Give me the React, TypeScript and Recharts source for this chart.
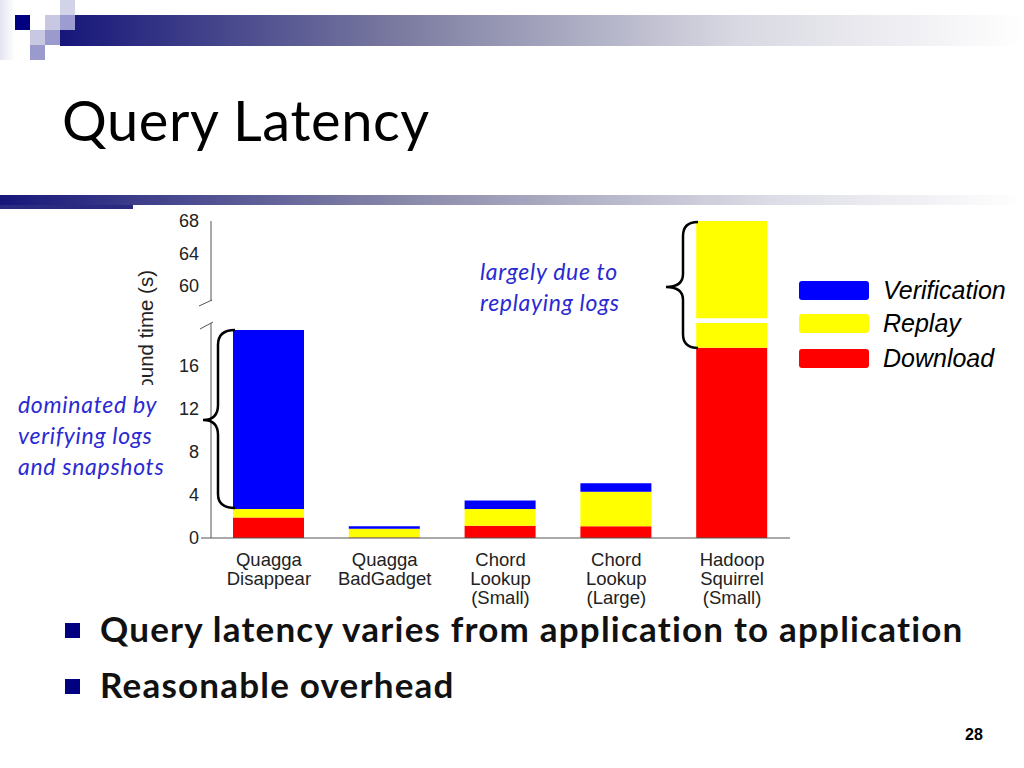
import React from 'react';
import { BarChart, Bar, XAxis, YAxis } from 'recharts';

// round time breakdown per application (seconds)
const apps = [
  'Quagga Disappear',
  'Quagga BadGadget',
  'Chord Lookup (Small)',
  'Chord Lookup (Large)',
  'Hadoop Squirrel (Small)',
];
const appLabelLines = [
  ['Quagga', 'Disappear'],
  ['Quagga', 'BadGadget'],
  ['Chord', 'Lookup', '(Small)'],
  ['Chord', 'Lookup', '(Large)'],
  ['Hadoop', 'Squirrel', '(Small)'],
];
const download = [1.9, 0.05, 1.15, 1.1, 17.7];
const replay = [0.8, 0.8, 1.55, 3.2, 50.4];
const verification = [16.65, 0.25, 0.8, 0.8, 0];

const upperTicks = [60, 64, 68];
const lowerTicks = [0, 4, 8, 12, 16];

const series = [
  { key: 'download', name: 'Download', color: '#ff0000' },
  { key: 'replay', name: 'Replay', color: '#ffff00' },
  { key: 'verification', name: 'Verification', color: '#0000ff' },
];
const legendOrder = ['Verification', 'Replay', 'Download'];

const bullets = [
  'Query latency varies from application to application',
  'Reasonable overhead',
];

const data = apps.map((app, i) => ({
  app,
  download: download[i],
  replay: replay[i],
  verification: verification[i],
}));

const AXIS_FONT = 'Liberation Sans, Arial, sans-serif';
const SLIDE_FONT = 'Lato, "Open Sans", sans-serif';
const NOTE_BLUE = '#2a2ad2';
const TICK_STYLE = { fontFamily: AXIS_FONT, fontSize: 18, fill: '#222' };

const CHART_W = 800;
const MARGIN_L = 151;
const MARGIN_R = 10;

function AppTick(props: any) {
  const { x, y, payload } = props;
  const lines = appLabelLines[payload.index] || [payload.value];
  return (
    <text
      x={x}
      y={y}
      textAnchor="middle"
      fontFamily={AXIS_FONT}
      fontSize={18.5}
      fill="#222"
    >
      {lines.map((l, i) => (
        <tspan key={i} x={x} dy={i === 0 ? 22 : 19}>
          {l}
        </tspan>
      ))}
    </text>
  );
}

function Bars() {
  return series.map((s) => (
    <Bar
      key={s.key}
      dataKey={s.key}
      name={s.name}
      stackId="a"
      fill={s.color}
      barSize={71}
      isAnimationActive={false}
    />
  ));
}

const noteStyle: React.CSSProperties = {
  position: 'absolute',
  fontFamily: SLIDE_FONT,
  fontStyle: 'italic',
  fontSize: 23,
  letterSpacing: 0.7,
  lineHeight: '31px',
  color: NOTE_BLUE,
  whiteSpace: 'nowrap',
};

export default function App() {
  return (
    <div
      style={{
        position: 'absolute',
        left: 0,
        top: 0,
        width: 1024,
        height: 768,
        background: '#fff',
        overflow: 'hidden',
      }}
    >
      {/* slide decoration */}
      <svg
        width={1024}
        height={768}
        style={{ position: 'absolute', left: 0, top: 0 }}
      >
        <defs>
          <linearGradient id="hdr" x1="0" x2="1" y1="0" y2="0">
            <stop offset="0" stopColor="#16167a" />
            <stop offset="0.35" stopColor="#7a7aa0" />
            <stop offset="0.7" stopColor="#d8d8e2" />
            <stop offset="1" stopColor="#ffffff" />
          </linearGradient>
          <linearGradient id="rule" x1="0" x2="1" y1="0" y2="0">
            <stop offset="0" stopColor="#16167a" />
            <stop offset="0.4" stopColor="#8a8aaa" />
            <stop offset="0.75" stopColor="#dcdce6" />
            <stop offset="1" stopColor="#ffffff" />
          </linearGradient>
          <linearGradient id="pale" x1="0" x2="1" y1="0" y2="0">
            <stop offset="0" stopColor="#e4e4f0" />
            <stop offset="1" stopColor="#ffffff" />
          </linearGradient>
        </defs>
        <rect x={0} y={0} width={15} height={60} fill="url(#pale)" />
        <rect x={60} y={15} width={964} height={31} fill="url(#hdr)" />
        <rect x={60} y={0} width={15} height={15} fill="#d2d2e8" />
        <rect x={15} y={15} width={15} height={15} fill="#000080" />
        <rect x={45} y={15} width={15} height={15} fill="#c8c8e2" />
        <rect x={60} y={15} width={15} height={15} fill="#9c9cd0" />
        <rect x={30} y={30} width={15} height={15} fill="#c8c8e2" />
        <rect x={45} y={30} width={15} height={15} fill="#9a9acc" />
        <rect x={30} y={45} width={15} height={15} fill="#9a9acc" />
        <rect x={0} y={195} width={1024} height={10} fill="url(#rule)" />
        <rect x={0} y={205} width={133} height={4} fill="#2a2a80" />
        <rect x={133} y={205} width={890} height={10} fill="#fff" />
      </svg>

      <div
        style={{
          position: 'absolute',
          left: 62,
          top: 84,
          fontFamily: SLIDE_FONT,
          fontSize: 56,
          letterSpacing: 0.6,
          color: '#000',
          lineHeight: '72px',
          whiteSpace: 'nowrap',
        }}
      >
        Query Latency
      </div>

      {/* upper panel of the broken axis */}
      <div style={{ position: 'absolute', left: 0, top: 200 }}>
        <BarChart
          width={CHART_W}
          height={119}
          data={data}
          margin={{ top: 21, right: MARGIN_R, bottom: 0.5, left: MARGIN_L }}
          barCategoryGap={0}
        >
          <XAxis dataKey="app" hide />
          <YAxis
            domain={[56, 68]}
            allowDataOverflow
            ticks={upperTicks}
            interval={0}
            tick={TICK_STYLE}
            tickLine={false}
            axisLine={false}
            tickMargin={6}
            width={60}
          />
          {Bars()}
        </BarChart>
      </div>

      {/* lower panel */}
      <div style={{ position: 'absolute', left: 0, top: 300 }}>
        <BarChart
          width={CHART_W}
          height={325}
          data={data}
          margin={{ top: 23, right: MARGIN_R, bottom: 0, left: MARGIN_L }}
          barCategoryGap={0}
        >
          <XAxis
            dataKey="app"
            interval={0}
            tick={<AppTick />}
            tickLine={false}
            axisLine={{ stroke: '#555', strokeWidth: 1 }}
            tickMargin={0}
            height={87}
          />
          <YAxis
            domain={[0, 20]}
            allowDataOverflow
            ticks={lowerTicks}
            interval={0}
            tick={TICK_STYLE}
            tickLine={false}
            axisLine={{ stroke: '#555', strokeWidth: 1 }}
            tickMargin={6}
            width={60}
          />
          {Bars()}
        </BarChart>
      </div>

      {/* axis breaks, y label and annotation braces */}
      <svg
        width={1024}
        height={768}
        style={{ position: 'absolute', left: 0, top: 0, pointerEvents: 'none' }}
      >
        <defs>
          <clipPath id="ylabClip">
            <rect x={0} y={0} width={1024} height={385} />
          </clipPath>
        </defs>
        <line x1={211} y1={221} x2={211} y2={301} stroke="#555" />
        <line x1={199} y1={306} x2={212} y2={300} stroke="#555" />
        <line x1={200} y1={329} x2={213} y2={322} stroke="#555" />
        <line x1={201} y1={538} x2={211} y2={538} stroke="#555" />
        <g clipPath="url(#ylabClip)">
          <text
            transform="translate(153,270) rotate(-90)"
            textAnchor="end"
            fontFamily={AXIS_FONT}
            fontSize={20.5}
            fill="#222"
          >
            Round time (s)
          </text>
        </g>
        <path
          d="M 235 330 Q 218 330 218 345 L 218 405 Q 218 420 203 420 Q 218 420 218 435 L 218 494 Q 218 508 235 508"
          fill="none"
          stroke="#000"
          strokeWidth={2.5}
        />
        <path
          d="M 698 222 Q 683 222 683 236 L 683 274 Q 683 287 666 287 Q 683 287 683 300 L 683 334 Q 683 348 698 348"
          fill="none"
          stroke="#000"
          strokeWidth={2.5}
        />
      </svg>

      {/* legend */}
      {legendOrder.map((name, i) => {
        const s = series.find((d) => d.name === name)!;
        const top = [281, 314, 349][i];
        return (
          <div key={name}>
            <div
              style={{
                position: 'absolute',
                left: 799,
                top,
                width: 70,
                height: 19,
                borderRadius: 3,
                background: s.color,
              }}
            />
            <div
              style={{
                position: 'absolute',
                left: 883,
                top: top - 7,
                fontFamily: AXIS_FONT,
                fontStyle: 'italic',
                fontSize: 25,
                lineHeight: '32px',
                color: '#000',
                whiteSpace: 'nowrap',
              }}
            >
              {s.name}
            </div>
          </div>
        );
      })}

      {/* annotations */}
      <div style={{ ...noteStyle, left: 480, top: 256 }}>
        largely due to
        <br />
        replaying logs
      </div>
      <div style={{ ...noteStyle, left: 18, top: 389 }}>
        dominated by
        <br />
        verifying logs
        <br />
        and snapshots
      </div>

      {/* bullets */}
      {bullets.map((t, i) => (
        <div key={t}>
          <div
            style={{
              position: 'absolute',
              left: 65,
              top: 623 + i * 56,
              width: 15,
              height: 15,
              background: '#000080',
            }}
          />
          <div
            style={{
              position: 'absolute',
              left: 100,
              top: 612 + i * 56,
              fontFamily: SLIDE_FONT,
              fontWeight: 700,
              fontSize: 35,
              letterSpacing: 1.2,
              lineHeight: '32px',
              color: '#111',
              whiteSpace: 'nowrap',
            }}
          >
            {t}
          </div>
        </div>
      ))}

      <div
        style={{
          position: 'absolute',
          left: 965,
          top: 726,
          fontFamily: AXIS_FONT,
          fontWeight: 700,
          fontSize: 16,
          color: '#000',
        }}
      >
        28
      </div>
    </div>
  );
}
